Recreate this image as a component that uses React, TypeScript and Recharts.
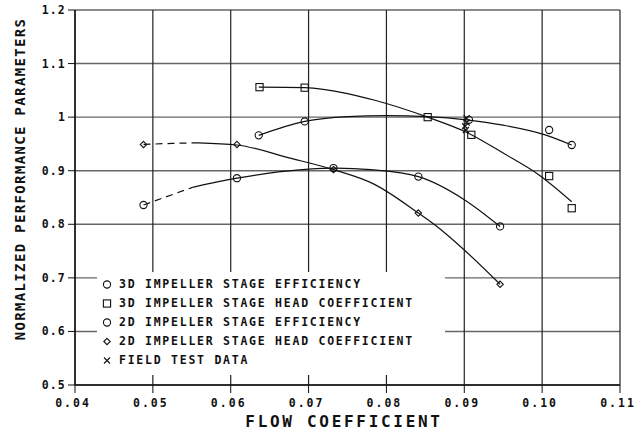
import React from "react";
import {
  ComposedChart,
  Line,
  Scatter,
  XAxis,
  YAxis,
  CartesianGrid,
} from "recharts";

// ---- tick labels ----
const xTicks = [0.04, 0.05, 0.06, 0.07, 0.08, 0.09, 0.1, 0.11];
const xTickLabels = ["0.04", "0.05", "0.06", "0.07", "0.08", "0.09", "0.10", "0.11"];
const yTicks = [0.5, 0.6, 0.7, 0.8, 0.9, 1.0, 1.1, 1.2];
const yTickLabels = ["0.5", "0.6", "0.7", "0.8", "0.9", "1", "1.1", "1.2"];

// ---- measured points ----
const eff3dX = [0.0636, 0.0695, 0.0906, 0.1009, 0.1038];
const eff3dY = [0.966, 0.992, 0.995, 0.976, 0.948];

const head3dX = [0.0637, 0.0695, 0.0853, 0.0909, 0.1009, 0.1038];
const head3dY = [1.056, 1.055, 1.0, 0.967, 0.89, 0.83];

const eff2dX = [0.0488, 0.0608, 0.0732, 0.0841, 0.0946];
const eff2dY = [0.836, 0.886, 0.905, 0.889, 0.796];

const head2dX = [0.0488, 0.0608, 0.0732, 0.0841, 0.0946];
const head2dY = [0.949, 0.949, 0.902, 0.821, 0.688];

const fieldX = [0.0903, 0.0903, 0.0901, 0.0902];
const fieldY = [0.998, 0.99, 0.983, 0.976];

// ---- fitted curves ----
const eff3dCurveX = [0.0636, 0.0695, 0.075, 0.08, 0.0853, 0.0903, 0.095, 0.1004, 0.1038];
const eff3dCurveY = [0.966, 0.992, 1.001, 1.003, 1.001, 0.995, 0.985, 0.967, 0.948];

const head3dCurveX = [0.0636, 0.0695, 0.075, 0.0784, 0.0853, 0.0904, 0.0951, 0.0996, 0.1038];
const head3dCurveY = [1.056, 1.055, 1.044, 1.032, 1.0, 0.971, 0.932, 0.892, 0.842];

const eff2dDashX = [0.0488, 0.0551];
const eff2dDashY = [0.836, 0.869];
const eff2dCurveX = [0.0551, 0.0608, 0.0647, 0.07, 0.0735, 0.078, 0.0841, 0.09, 0.0946];
const eff2dCurveY = [0.869, 0.886, 0.895, 0.903, 0.905, 0.902, 0.889, 0.846, 0.796];

const head2dDashX = [0.0488, 0.0525, 0.0558];
const head2dDashY = [0.949, 0.951, 0.952];
const head2dCurveX = [0.0558, 0.0608, 0.0675, 0.0732, 0.0784, 0.0841, 0.0862, 0.09, 0.0946];
const head2dCurveY = [0.952, 0.948, 0.924, 0.902, 0.875, 0.821, 0.799, 0.752, 0.688];

const legendLabels = [
  "3D IMPELLER STAGE EFFICIENCY",
  "3D IMPELLER STAGE HEAD COEFFICIENT",
  "2D IMPELLER STAGE EFFICIENCY",
  "2D IMPELLER STAGE HEAD COEFFICIENT",
  "FIELD TEST DATA",
];
const legendShapes = ["circle", "square", "circle", "diamond", "cross"];

const zip = (xs: number[], ys: number[]) => xs.map((x, i) => ({ x, y: ys[i] }));

const FONT = "'DejaVu Sans Mono', monospace";
const INK = "#111";

const Marker = ({ kind, cx, cy }: { kind: string; cx: number; cy: number }) => {
  if (kind === "circle")
    return <circle cx={cx} cy={cy} r={3.6} fill="none" stroke={INK} strokeWidth={1.1} />;
  if (kind === "square")
    return <rect x={cx - 3.6} y={cy - 3.6} width={7.2} height={7.2} fill="none" stroke={INK} strokeWidth={1.1} />;
  if (kind === "diamond")
    return (
      <path
        d={`M${cx} ${cy - 3.2}L${cx + 3.2} ${cy}L${cx} ${cy + 3.2}L${cx - 3.2} ${cy}Z`}
        fill="none"
        stroke={INK}
        strokeWidth={1.1}
      />
    );
  return (
    <path
      d={`M${cx - 3} ${cy - 3}L${cx + 3} ${cy + 3}M${cx - 3} ${cy + 3}L${cx + 3} ${cy - 3}`}
      stroke={INK}
      strokeWidth={1.1}
    />
  );
};

const shapeOf = (kind: string) => (p: any) => <Marker kind={kind} cx={p.cx} cy={p.cy} />;

const XTick = (p: any) => (
  <text
    x={p.x - 2}
    y={p.y + 12}
    textAnchor="middle"
    fontFamily={FONT}
    fontWeight="bold"
    fontSize={11.5}
    letterSpacing={2}
    fill={INK}
  >
    {xTickLabels[p.index]}
  </text>
);

const YTick = (p: any) => (
  <text
    x={p.x}
    y={p.y}
    textAnchor="end"
    dominantBaseline="central"
    fontFamily={FONT}
    fontWeight="bold"
    fontSize={11.5}
    letterSpacing={1.2}
    fill={INK}
  >
    {yTickLabels[p.index]}
  </text>
);

const lineProps = {
  type: "monotone" as const,
  dataKey: "y",
  stroke: INK,
  strokeWidth: 1.2,
  dot: false,
  activeDot: false,
  isAnimationActive: false,
  legendType: "none" as const,
};

export default function App() {
  return (
    <div style={{ position: "absolute", left: 0, top: 0, width: 642, height: 433, background: "#fff" }}>
      <ComposedChart width={642} height={433} margin={{ top: 10, right: 22, bottom: 18, left: 0 }}>
        <CartesianGrid horizontal={true} vertical={false} stroke="#666" strokeWidth={1.4} />
        <CartesianGrid horizontal={false} vertical={true} stroke="#222" strokeWidth={1.2} />
        <XAxis
          type="number"
          dataKey="x"
          domain={[0.04, 0.11]}
          ticks={xTicks}
          allowDataOverflow
          height={30}
          tickSize={8}
          tick={<XTick />}
          axisLine={{ stroke: INK, strokeWidth: 1.4 }}
          tickLine={{ stroke: INK }}
          label={{
            content: () => (
              <text
                x={344}
                y={427}
                textAnchor="middle"
                fontFamily={FONT}
                fontWeight="bold"
                fontSize={16}
                letterSpacing={2.7}
                fill={INK}
              >
                FLOW COEFFICIENT
              </text>
            ),
          }}
        />
        <YAxis
          type="number"
          dataKey="y"
          domain={[0.5, 1.2]}
          ticks={yTicks}
          allowDataOverflow
          width={75}
          tickSize={7}
          tick={<YTick />}
          axisLine={{ stroke: INK, strokeWidth: 1.4 }}
          tickLine={{ stroke: INK }}
          label={{
            content: () => (
              <text
                x={20}
                y={179}
                transform="rotate(-90 20 179)"
                textAnchor="middle"
                dominantBaseline="central"
                fontFamily={FONT}
                fontWeight="bold"
                fontSize={14}
                letterSpacing={1.35}
                fill={INK}
              >
                NORMALIZED PERFORMANCE PARAMETERS
              </text>
            ),
          }}
        />
        <Line {...lineProps} data={zip(eff3dCurveX, eff3dCurveY)} />
        <Line {...lineProps} data={zip(head3dCurveX, head3dCurveY)} />
        <Line {...lineProps} data={zip(eff2dCurveX, eff2dCurveY)} />
        <Line {...lineProps} data={zip(eff2dDashX, eff2dDashY)} strokeDasharray="7 5" />
        <Line {...lineProps} data={zip(head2dCurveX, head2dCurveY)} />
        <Line {...lineProps} data={zip(head2dDashX, head2dDashY)} strokeDasharray="7 5" />
        <Scatter data={zip(eff3dX, eff3dY)} shape={shapeOf("circle")} isAnimationActive={false} />
        <Scatter data={zip(head3dX, head3dY)} shape={shapeOf("square")} isAnimationActive={false} />
        <Scatter data={zip(eff2dX, eff2dY)} shape={shapeOf("circle")} isAnimationActive={false} />
        <Scatter data={zip(head2dX, head2dY)} shape={shapeOf("diamond")} isAnimationActive={false} />
        <Scatter data={zip(fieldX, fieldY)} shape={shapeOf("cross")} isAnimationActive={false} />
      </ComposedChart>
      <div
        style={{
          position: "absolute",
          left: 97,
          top: 272,
          width: 348,
          height: 103,
          background: "#fff",
          paddingTop: 3,
          boxSizing: "border-box",
        }}
      >
        {legendLabels.map((label, i) => (
          <div key={label} style={{ display: "flex", alignItems: "center", height: 19 }}>
            <svg width={20} height={19} style={{ flex: "none" }}>
              <Marker kind={legendShapes[i]} cx={10} cy={9.5} />
            </svg>
            <span
              style={{
                marginLeft: 2,
                fontFamily: FONT,
                fontWeight: "bold",
                fontSize: 11.5,
                letterSpacing: 1.75,
                color: INK,
                whiteSpace: "nowrap",
                lineHeight: "19px",
              }}
            >
              {label}
            </span>
          </div>
        ))}
      </div>
    </div>
  );
}
